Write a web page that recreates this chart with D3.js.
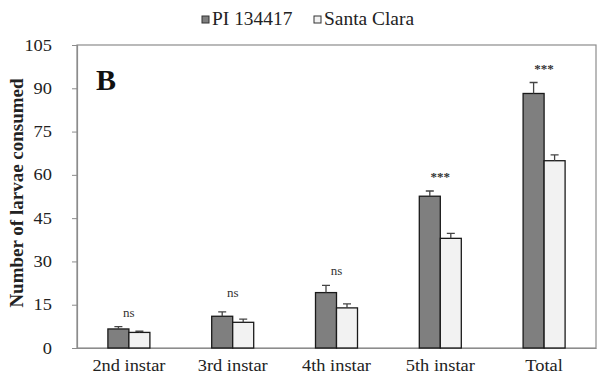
<!DOCTYPE html>
<html><head><meta charset="utf-8">
<script src="https://cdn.jsdelivr.net/npm/d3@7"></script>
<style>body{margin:0;background:#fff}svg{display:block}svg text{font-family:'Liberation Serif','Times New Roman','DejaVu Serif',serif !important}</style>
</head><body><svg id="c" width="597" height="375"></svg>
<script>
const categories = ["2nd instar","3rd instar","4th instar","5th instar","Total"];
const seriesNames = ["PI 134417","Santa Clara"];
const piValues = [6.6, 11.0, 19.2, 52.6, 88.2];
const piErrors = [0.8, 1.5, 2.5, 1.8, 3.8];
const scValues = [5.4, 8.9, 13.9, 38.0, 64.9];
const scErrors = [0.4, 1.1, 1.4, 1.7, 2.0];
const sigLabels = ["ns","ns","ns","***","***"];
const yTicks = [0,15,30,45,60,75,90,105];
const panelLabel = "B";
const yTitle = "Number of larvae consumed";

const colors = {"PI 134417":"#7f7f7f","Santa Clara":"#f2f2f2"};
const svg = d3.select("#c");
const L = 77, R = 596, T = 45, B = 348;
const x0 = d3.scaleBand().domain(categories).range([L,R]).padding(0);
const groupW = 42;
const x1 = d3.scaleBand().domain(seriesNames).range([-groupW/2, groupW/2]);
const y = d3.scaleLinear().domain([0,105]).range([B,T]);

const rows = categories.map((c,i)=>({cat:c, sig:sigLabels[i], vals:[
  {s:seriesNames[0], v:piValues[i], e:piErrors[i]},
  {s:seriesNames[1], v:scValues[i], e:scErrors[i]}]}));

// frame
svg.append("rect").attr("x",L).attr("y",T).attr("width",R-L).attr("height",B-T)
  .attr("fill","none").attr("stroke","#8c8c8c").attr("stroke-width",1.2);

// y axis
const ya = svg.append("g").attr("transform",`translate(${L},0)`)
  .call(d3.axisLeft(y).tickValues(yTicks).tickSize(5).tickPadding(0));
ya.select(".domain").attr("stroke","#8c8c8c").attr("stroke-width",1.2);
ya.selectAll(".tick line").attr("stroke","#8c8c8c");
ya.selectAll(".tick text").attr("font-size",16).attr("fill","#222")
  .attr("x",0).attr("transform","translate(-25,0) scale(1.15,1)");

// x axis
const xa = svg.append("g").attr("transform",`translate(0,${B})`)
  .call(d3.axisBottom(x0).tickSize(0).tickPadding(0));
xa.select(".domain").attr("stroke","#8c8c8c").attr("stroke-width",1.2);
xa.selectAll(".tick text").attr("font-size",16).attr("fill","#222")
  .attr("y",0).attr("dy",0).attr("transform","translate(0,23) scale(1.15,1)");

// bars
const g = svg.selectAll("g.grp").data(rows).join("g").attr("class","grp")
  .attr("transform",d=>`translate(${x0(d.cat)+x0.bandwidth()/2},0)`);
g.selectAll("rect").data(d=>d.vals).join("rect")
  .attr("x",d=>x1(d.s)).attr("width",x1.bandwidth())
  .attr("y",d=>y(d.v)).attr("height",d=>B-y(d.v))
  .attr("fill",d=>colors[d.s]).attr("stroke","#1a1a1a").attr("stroke-width",1.3);
// error bars
g.selectAll("path.err").data(d=>d.vals).join("path").attr("class","err")
  .attr("d",d=>{const cx=x1(d.s)+x1.bandwidth()/2; return `M${cx},${y(d.v)}V${y(d.v+d.e)}M${cx-4},${y(d.v+d.e)}H${cx+4}`;})
  .attr("stroke","#444").attr("stroke-width",1.3).attr("fill","none");
// significance
g.append("text").text(d=>d.sig)
  .attr("x",0).attr("y",d=>y(Math.max(...d.vals.map(v=>v.v+v.e)))-(d.cat==="3rd instar"?15:10))
  .attr("text-anchor","middle").attr("font-size",13).attr("fill","#333")
  .attr("font-weight",d=>d.sig==="ns"?"normal":"bold");

// panel label
svg.append("text").text(panelLabel).attr("x",96).attr("y",90)
  .attr("font-size",30).attr("font-weight","bold").attr("fill","#111");

// y title
svg.append("text").text(yTitle).attr("transform","translate(23,193) rotate(-90)")
  .attr("text-anchor","middle").attr("font-size",19).attr("font-weight","bold").attr("fill","#222");

// legend
const leg = svg.append("g");
const legItems = [{s:seriesNames[0], x:202},{s:seriesNames[1], x:314}];
leg.selectAll("rect").data(legItems).join("rect")
  .attr("x",d=>d.x).attr("y",16).attr("width",7).attr("height",7)
  .attr("fill",d=>colors[d.s]).attr("stroke","#333").attr("stroke-width",1);
leg.selectAll("text").data(legItems).join("text").text(d=>d.s)
  .attr("transform",d=>`translate(${d.x+10},25) scale(1.08,1)`).attr("font-size",18).attr("fill","#222");
</script></body></html>
